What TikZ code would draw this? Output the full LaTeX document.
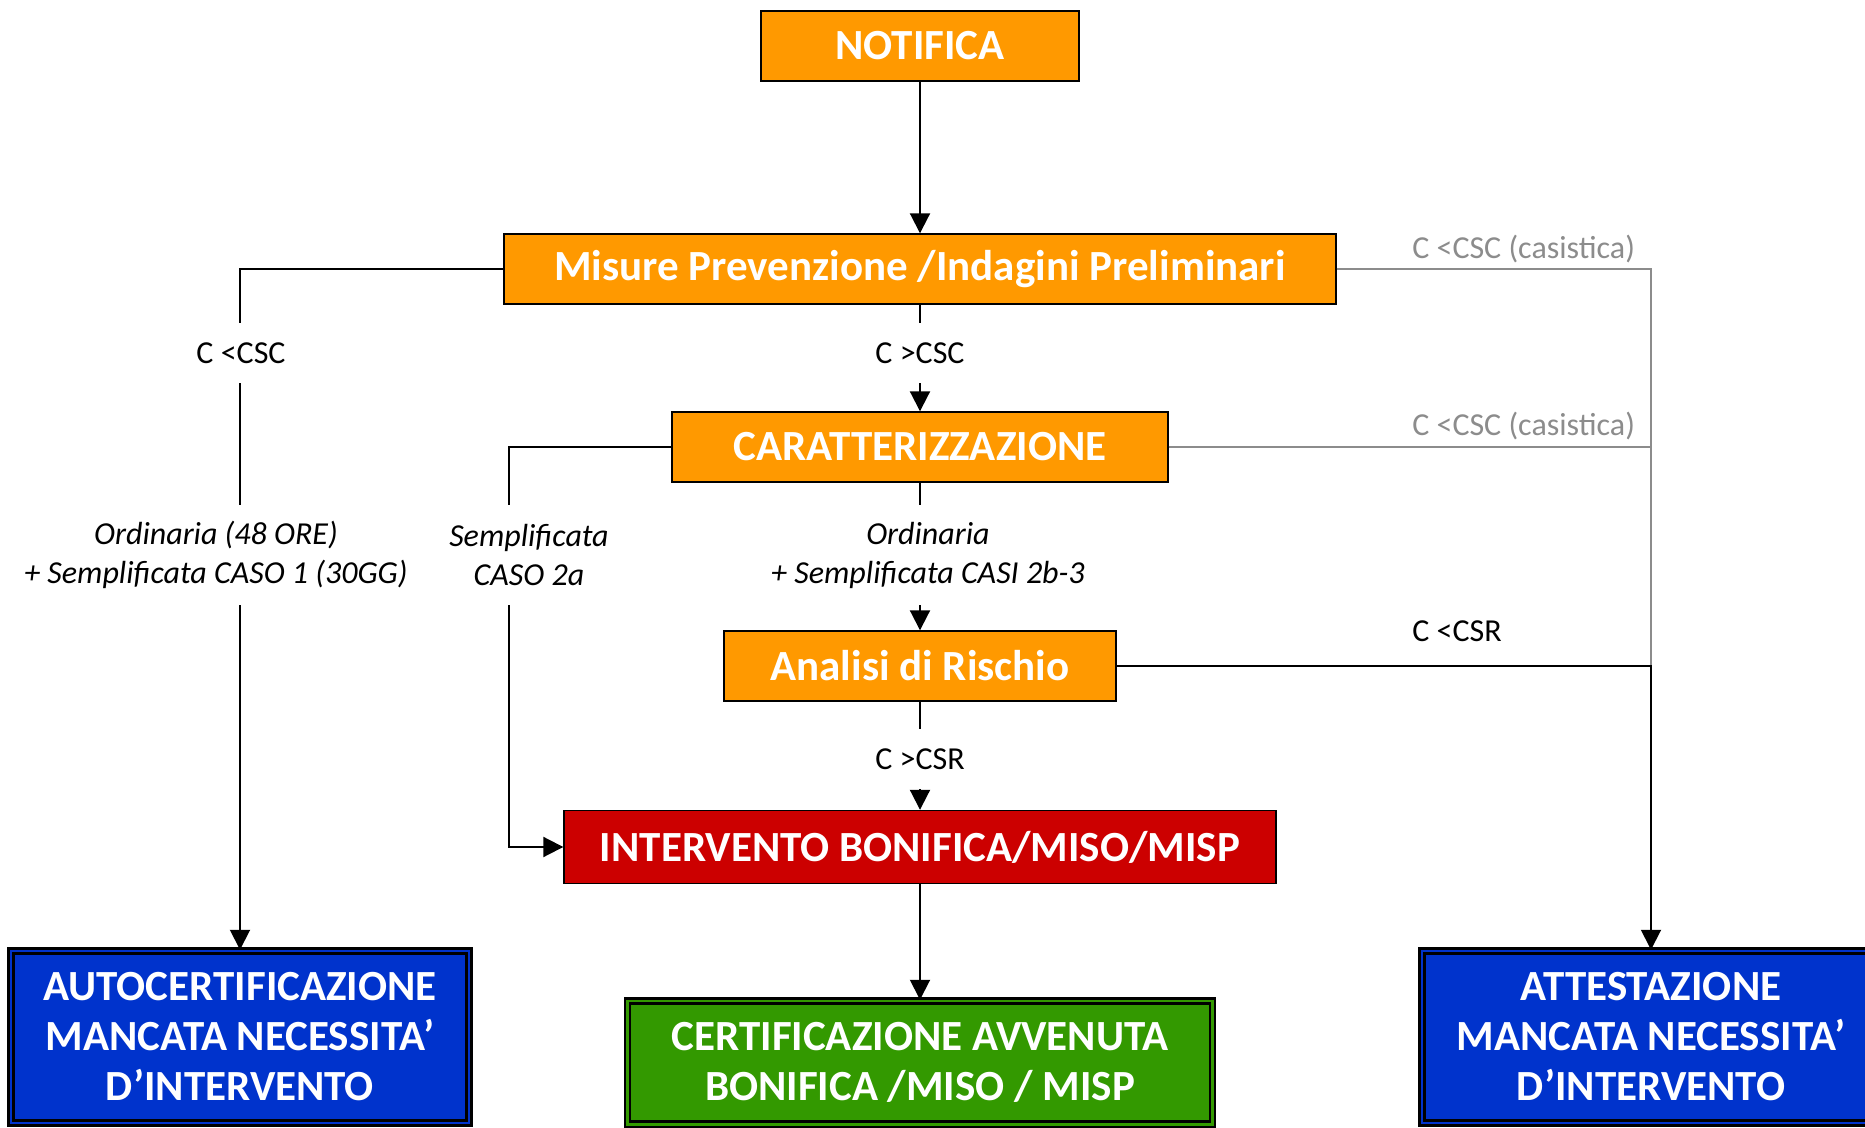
\documentclass[tikz,border=0pt]{standalone}
\usepackage{fontspec}
\setmainfont{Carlito}
\usepackage{xcolor}
\usetikzlibrary{arrows.meta}
\usetikzlibrary{positioning}

\definecolor{boxorange}{HTML}{FF9900}
\definecolor{boxred}{HTML}{CC0000}
\definecolor{boxgreen}{HTML}{339900}
\definecolor{boxblue}{HTML}{0033CC}
\definecolor{linegray}{HTML}{8C8C8C}

\begin{document}
\begin{tikzpicture}[x=0.5pt, y=-0.5pt, ->, >={Triangle[length=10pt,width=10pt]}, line width=1pt]
    \tikzstyle{flowbox}=[draw=black,line width=0.7pt,text=white,font=\bfseries\fontsize{21.5}{25}\selectfont,minimum height=35pt,align=center]
    \tikzstyle{orangebox}=[flowbox,fill=boxorange]
    \tikzstyle{endbox}=[draw=black,double distance=1.35pt,line width=1.25pt,text=white,font=\bfseries\fontsize{21.5}{25}\selectfont,align=center]
    \tikzstyle{lbl}=[fill=white,font=\fontsize{16}{19.5}\selectfont,align=center,inner xsep=3pt,inner ysep=0pt,minimum height=30pt]
    \tikzstyle{greylbl}=[text=linegray,font=\fontsize{16}{19.5}\selectfont,inner sep=0pt]
    \tikzstyle{greyline}=[-,draw=linegray,line width=0.9pt]
    \useasboundingbox (0,0) rectangle (1865,1128);
    \node[orangebox,minimum width=159pt]    (notifica) at (920,46)                          {NOTIFICA};
    \node[orangebox,minimum width=416pt]    (misure)[below of=notifica,node distance=111.5pt] {Misure Prevenzione /Indagini Preliminari};
    \node[orangebox,minimum width=248pt]    (caratt)[below of=misure,node distance=89pt]      {CARATTERIZZAZIONE};
    \node[orangebox,minimum width=196pt]    (analisi)[below of=caratt,node distance=109.5pt]  {Analisi di Rischio};
    \node[flowbox,fill=boxred,minimum width=356pt,minimum height=36.5pt]
                                            (intervento)[below of=analisi,node distance=90.5pt] {INTERVENTO BONIFICA/MISO/MISP};
    \node[endbox,fill=boxgreen,double=boxgreen,minimum width=292.6pt,minimum height=61.6pt]
                                            (certif)[below of=intervento,node distance=107.8pt] {CERTIFICAZIONE AVVENUTA\\BONIFICA /MISO / MISP};
    \node[endbox,fill=boxblue,double=boxblue,minimum width=229pt,minimum height=86pt]
                                            (autocert) at (240,1037)  {AUTOCERTIFICAZIONE\\MANCATA NECESSITA’\\D’INTERVENTO};
    \node[endbox,fill=boxblue,double=boxblue,minimum width=229pt,minimum height=86pt]
                                            (attest) at (1651,1037)   {ATTESTAZIONE\\MANCATA NECESSITA’\\D’INTERVENTO};
    \coordinate (k2a) at (509,700);
    \coordinate (kdx) at (analisi.east -| attest.north);

    % main column
    \draw (notifica) -- (misure);
    \draw (misure) -- (caratt);
    \draw (caratt) -- (analisi);
    \draw (analisi) -- (intervento);
    \draw (intervento) -- (certif);
    % side branches
    \draw (misure.west) -| (autocert.north);
    \draw (caratt.west) -| (k2a) |- (intervento.west);
    \draw[greyline] (misure.east) -| (kdx);
    \draw[greyline] (caratt.east) -- (caratt.east -| kdx);
    \draw (analisi.east) -| (attest.north);

    % labels
    \node[lbl] (l_csc)  at (241,353)  {C <CSC};
    \node[lbl] (g_csc)  at (920,353)  {C >CSC};
    \node[lbl] (g_csr)  at (920,759)  {C >CSR};
    \node[lbl,minimum height=50pt,font=\itshape\fontsize{16}{19.5}\selectfont] (l_ord)  at (216,555)  {Ordinaria (48 ORE)\\+ Semplificata CASO 1 (30GG)};
    \node[lbl,minimum height=50pt,font=\itshape\fontsize{16}{19.5}\selectfont] (l_2a)   at (529,555)  {Semplificata\\CASO 2a};
    \node[lbl,minimum height=50pt,font=\itshape\fontsize{16}{19.5}\selectfont] (l_2b)   at (928,555)  {Ordinaria\\+ Semplificata CASI 2b-3};
    \node[greylbl,anchor=base east] (r_csc1) at (1636,259) {C <CSC (casistica)};
    \node[greylbl,anchor=base east] (r_csc2) at (1636,436) {C <CSC (casistica)};
    \node[inner sep=0pt,font=\fontsize{16}{19.5}\selectfont,anchor=base] (r_csr) at (1457,642) {C <CSR};
\end{tikzpicture}
\end{document}
